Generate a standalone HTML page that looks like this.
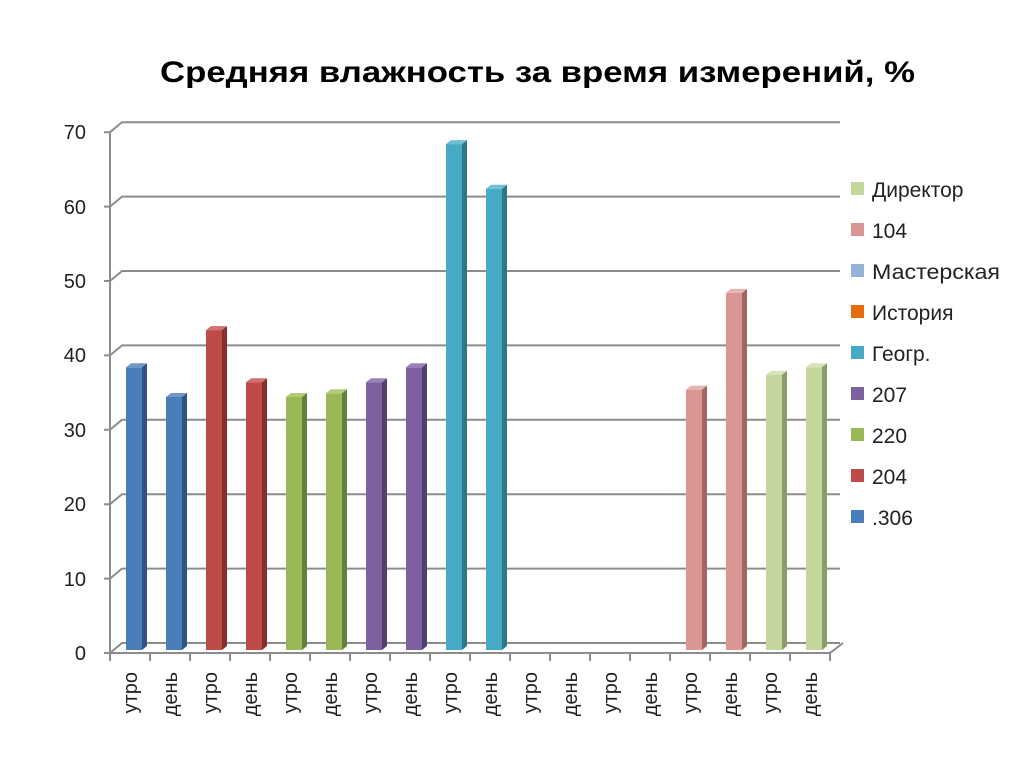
<!DOCTYPE html><html><head><meta charset="utf-8"><style>body{margin:0;background:#fff}</style></head><body>
<svg width="1024" height="767" xmlns="http://www.w3.org/2000/svg" font-family="Liberation Sans, DejaVu Sans, sans-serif">
<text x="160" y="82" textLength="755" lengthAdjust="spacingAndGlyphs" font-size="30" font-weight="bold" fill="#000">Средняя влажность за время измерений, %</text>
<g stroke="#8c8c8c" stroke-width="2" fill="none">
<path d="M104 653L110 653L122 643L840 643"/>
<path d="M104 578.6L110 578.6L122 568.6L840 568.6"/>
<path d="M104 504.2L110 504.2L122 494.2L840 494.2"/>
<path d="M104 429.8L110 429.8L122 419.8L840 419.8"/>
<path d="M104 355.4L110 355.4L122 345.4L840 345.4"/>
<path d="M104 281L110 281L122 271L840 271"/>
<path d="M104 206.6L110 206.6L122 196.6L840 196.6"/>
<path d="M104 132.2L110 132.2L122 122.2L840 122.2"/>
<path d="M110 131L110 653L830 653L843 643"/>
<path d="M110 653v8M150 653v8M190 653v8M230 653v8M270 653v8M310 653v8M350 653v8M390 653v8M430 653v8M470 653v8M510 653v8M550 653v8M590 653v8M630 653v8M670 653v8M710 653v8M750 653v8M790 653v8M830 653v8"/>
</g>
<g font-size="20" fill="#222" text-anchor="end">
<text x="86" y="660">0</text><text x="86" y="586">10</text><text x="86" y="511">20</text><text x="86" y="437">30</text><text x="86" y="362">40</text><text x="86" y="288">50</text><text x="86" y="214">60</text><text x="86" y="139">70</text>
</g>
<g>
<rect x="126" y="367.3" width="16" height="282.7" fill="#4a7ebb"/><polygon points="142,367.3 147,363.3 147,646 142,650" fill="#2f5382"/><polygon points="126,367.3 131,363.3 147,363.3 142,367.3" fill="#6f97c9"/>
<rect x="166" y="397" width="16" height="253" fill="#4a7ebb"/><polygon points="182,397 187,393 187,646 182,650" fill="#2f5382"/><polygon points="166,397 171,393 187,393 182,397" fill="#6f97c9"/>
<rect x="206" y="330.1" width="16" height="319.9" fill="#be4b48"/><polygon points="222,330.1 227,326.1 227,646 222,650" fill="#85302e"/><polygon points="206,330.1 211,326.1 227,326.1 222,330.1" fill="#cf716e"/>
<rect x="246" y="382.2" width="16" height="267.8" fill="#be4b48"/><polygon points="262,382.2 267,378.2 267,646 262,650" fill="#85302e"/><polygon points="246,382.2 251,378.2 267,378.2 262,382.2" fill="#cf716e"/>
<rect x="286" y="397" width="16" height="253" fill="#98b954"/><polygon points="302,397 307,393 307,646 302,650" fill="#65803a"/><polygon points="286,397 291,393 307,393 302,397" fill="#b0cc7a"/>
<rect x="326" y="393.3" width="16" height="256.7" fill="#98b954"/><polygon points="342,393.3 347,389.3 347,646 342,650" fill="#65803a"/><polygon points="326,393.3 331,389.3 347,389.3 342,393.3" fill="#b0cc7a"/>
<rect x="366" y="382.2" width="16" height="267.8" fill="#7d60a0"/><polygon points="382,382.2 387,378.2 387,646 382,650" fill="#54406e"/><polygon points="366,382.2 371,378.2 387,378.2 382,382.2" fill="#9a80bb"/>
<rect x="406" y="367.3" width="16" height="282.7" fill="#7d60a0"/><polygon points="422,367.3 427,363.3 427,646 422,650" fill="#54406e"/><polygon points="406,367.3 411,363.3 427,363.3 422,367.3" fill="#9a80bb"/>
<rect x="446" y="144.1" width="16" height="505.9" fill="#46aac5"/><polygon points="462,144.1 467,140.1 467,646 462,650" fill="#2d7789"/><polygon points="446,144.1 451,140.1 467,140.1 462,144.1" fill="#6fc0d6"/>
<rect x="486" y="188.7" width="16" height="461.3" fill="#46aac5"/><polygon points="502,188.7 507,184.7 507,646 502,650" fill="#2d7789"/><polygon points="486,188.7 491,184.7 507,184.7 502,188.7" fill="#6fc0d6"/>
<rect x="686" y="389.6" width="16" height="260.4" fill="#d99694"/><polygon points="702,389.6 707,385.6 707,646 702,650" fill="#a06664"/><polygon points="686,389.6 691,385.6 707,385.6 702,389.6" fill="#e8b4b2"/>
<rect x="726" y="292.9" width="16" height="357.1" fill="#d99694"/><polygon points="742,292.9 747,288.9 747,646 742,650" fill="#a06664"/><polygon points="726,292.9 731,288.9 747,288.9 742,292.9" fill="#e8b4b2"/>
<rect x="766" y="374.7" width="16" height="275.3" fill="#c3d69b"/><polygon points="782,374.7 787,370.7 787,646 782,650" fill="#8a9c6a"/><polygon points="766,374.7 771,370.7 787,370.7 782,374.7" fill="#d6e4b8"/>
<rect x="806" y="367.3" width="16" height="282.7" fill="#c3d69b"/><polygon points="822,367.3 827,363.3 827,646 822,650" fill="#8a9c6a"/><polygon points="806,367.3 811,363.3 827,363.3 822,367.3" fill="#d6e4b8"/>
</g>
<g font-size="20" fill="#222" text-anchor="end">
<text transform="translate(137,672) rotate(-90)">утро</text>
<text transform="translate(177,672) rotate(-90)">день</text>
<text transform="translate(217,672) rotate(-90)">утро</text>
<text transform="translate(257,672) rotate(-90)">день</text>
<text transform="translate(297,672) rotate(-90)">утро</text>
<text transform="translate(337,672) rotate(-90)">день</text>
<text transform="translate(377,672) rotate(-90)">утро</text>
<text transform="translate(417,672) rotate(-90)">день</text>
<text transform="translate(457,672) rotate(-90)">утро</text>
<text transform="translate(497,672) rotate(-90)">день</text>
<text transform="translate(537,672) rotate(-90)">утро</text>
<text transform="translate(577,672) rotate(-90)">день</text>
<text transform="translate(617,672) rotate(-90)">утро</text>
<text transform="translate(657,672) rotate(-90)">день</text>
<text transform="translate(697,672) rotate(-90)">утро</text>
<text transform="translate(737,672) rotate(-90)">день</text>
<text transform="translate(777,672) rotate(-90)">утро</text>
<text transform="translate(817,672) rotate(-90)">день</text>
</g>
<g font-size="21" fill="#222">
<rect x="851" y="182" width="13" height="13" fill="#c3d69b"/><text x="872" y="197">Директор</text>
<rect x="851" y="223" width="13" height="13" fill="#d99694"/><text x="872" y="238">104</text>
<rect x="851" y="264" width="13" height="13" fill="#95b3d7"/><text x="872" y="279" textLength="128" lengthAdjust="spacingAndGlyphs">Мастерская</text>
<rect x="851" y="305" width="13" height="13" fill="#e46c0a"/><text x="872" y="320">История</text>
<rect x="851" y="346" width="13" height="13" fill="#46aac5"/><text x="872" y="361">Геогр.</text>
<rect x="851" y="387" width="13" height="13" fill="#7d60a0"/><text x="872" y="402">207</text>
<rect x="851" y="428" width="13" height="13" fill="#98b954"/><text x="872" y="443">220</text>
<rect x="851" y="469" width="13" height="13" fill="#be4b48"/><text x="872" y="484">204</text>
<rect x="851" y="510" width="13" height="13" fill="#4a7ebb"/><text x="872" y="525">.306</text>
</g>
</svg></body></html>
